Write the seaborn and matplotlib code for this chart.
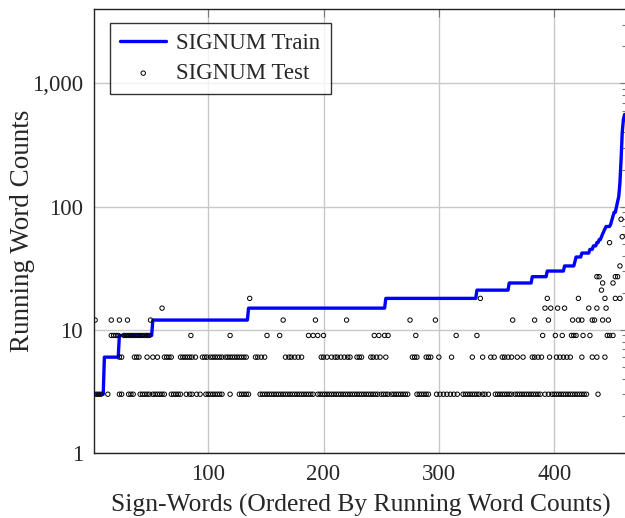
import numpy as np
import pandas as pd
import matplotlib
matplotlib.use("Agg")
import matplotlib.pyplot as plt
import seaborn as sns
from matplotlib.ticker import FixedLocator, LogLocator, NullFormatter

# Training counts per sign-word (sorted), as step levels and how many words sit on each
train_levels = [3, 6, 9, 12, 15, 18, 21, 24, 27, 30, 33, 36, 39, 42, 45, 48, 51, 54,
                57, 60, 63, 66, 69, 72, 78, 84, 90, 100, 110, 121, 156, 241, 400, 510, 560]
train_runs = [9, 13, 29, 83, 119, 79, 28, 20, 13, 15, 9, 1, 5, 7, 3, 3, 2, 2,
              1, 1, 1, 1, 4, 1, 1, 1, 2, 1, 1, 1, 1, 1, 1, 1, 1]

# Test counts: sign-word positions found at each count level
test_levels = [3, 6, 9, 12, 15, 18, 21, 24, 27, 33, 51, 57, 79]
test_x = [
    [3, 5, 7, 13, 23, 25, 31, 33, 35, 41, 43, 45, 47, 49, 52, 54, 56, 58, 60, 62, 68, 70,
     72, 74, 76, 81, 84, 86, 90, 93, 98, 100, 102, 104, 106, 108, 110, 112, 119, 127, 129,
     131, 133, 135, 145, 147, 149, 151, 153, 155, 157, 159, 161, 163, 165, 167, 169, 171,
     173, 175, 177, 179, 181, 183, 185, 187, 189, 191, 195, 197, 199, 201, 203, 205, 207,
     209, 211, 213, 215, 217, 219, 221, 223, 225, 227, 229, 231, 233, 235, 237, 239, 241,
     243, 245, 247, 250, 252, 254, 256, 259, 261, 263, 265, 267, 269, 271, 273, 281, 283,
     285, 287, 289, 291, 298, 301, 304, 307, 310, 313, 316, 321, 323, 325, 327, 329, 331,
     333, 335, 338, 340, 343, 349, 351, 353, 355, 357, 359, 361, 363, 366, 368, 370, 372,
     374, 376, 378, 380, 382, 384, 386, 388, 392, 395, 398, 400, 402, 404, 406, 408, 410,
     412, 414, 416, 418, 420, 422, 424, 426, 428, 438],
    [23, 25, 36, 38, 40, 47, 52, 56, 62, 64, 66, 68, 76, 78, 80, 82, 84, 86, 89, 95, 97,
     99, 102, 104, 106, 108, 110, 112, 115, 117, 119, 121, 123, 125, 127, 129, 131, 133,
     141, 143, 146, 149, 167, 170, 172, 175, 178, 181, 198, 200, 203, 207, 210, 212, 215,
     218, 221, 223, 229, 231, 233, 241, 243, 246, 249, 254, 277, 279, 281, 289, 291, 293,
     300, 311, 329, 338, 345, 348, 355, 357, 360, 363, 368, 373, 381, 383, 386, 389, 396,
     402, 405, 408, 411, 414, 424, 433, 437, 444],
    [16, 18, 20, 22, 27, 29, 31, 33, 35, 37, 39, 41, 43, 45, 47, 49, 85, 119, 151, 162,
     187, 191, 195, 200, 244, 248, 253, 256, 280, 315, 333, 390, 401, 407, 415, 417, 419,
     425, 431, 446, 448, 451],
    [2, 16, 23, 30, 50, 165, 193, 220, 275, 297, 364, 383, 395, 416, 421, 424, 433, 435,
     442, 447],
    [60, 392, 397, 403, 409, 430, 437, 445],
    [136, 336, 394, 421, 444, 453, 457],
    [441],
    [442, 451],
    [437, 439, 453, 455],
    [457],
    [448],
    [459],
    [458],
]

train_y = np.repeat(train_levels, train_runs)
train = pd.DataFrame({"word": np.arange(1, len(train_y) + 1), "count": train_y})
test = pd.DataFrame({
    "word": [x for xs in test_x for x in xs],
    "count": [lv for lv, xs in zip(test_levels, test_x) for _ in xs],
})

sns.set_theme(style="white")
plt.rcParams["font.family"] = ["Liberation Serif", "DejaVu Serif"]

fig = plt.figure(figsize=(6.25, 5.18), dpi=100)
ax = fig.add_axes([94 / 625, 65 / 518, 534 / 625, 443.7 / 518])

sns.lineplot(data=train, x="word", y="count", color="#0000ff", linewidth=2.4,
             estimator=None, label="SIGNUM Train", ax=ax, zorder=3)
sns.scatterplot(data=test, x="word", y="count", marker="o", s=10,
                facecolor="none", edgecolor="black", linewidth=0.7,
                label="SIGNUM Test", ax=ax, zorder=4)

ax.set_yscale("log")
ax.set_ylim(1, 4000)
ax.set_xlim(1, 464)
ax.yaxis.set_major_locator(FixedLocator([1, 10, 100, 1000]))
ax.set_yticklabels(["1", "10", "100", "1,000"])
ax.yaxis.set_minor_locator(LogLocator(base=10, subs=np.arange(2, 10)))
ax.yaxis.set_minor_formatter(NullFormatter())
ax.set_xticks([100, 200, 300, 400])

ax.grid(True, which="major", color="#c8c8c8", linewidth=1.0)
ax.set_axisbelow(True)
ax.tick_params(which="both", direction="in", top=True, right=True,
               color="#777777", width=0.8, labelsize=16.5, pad=8)
ax.tick_params(which="major", length=6)
ax.tick_params(which="minor", length=4)
for s in ax.spines.values():
    s.set_color("#222222")
    s.set_linewidth(1.0)

ax.set_xlabel("Sign-Words (Ordered By Running Word Counts)", fontsize=18.4, labelpad=6)
ax.set_ylabel("Running Word Counts", fontsize=19.5, labelpad=-2.5)

leg = ax.legend(loc="upper left", bbox_to_anchor=(0.030, 0.970), borderaxespad=0,
                fontsize=16.5, frameon=True, fancybox=False, edgecolor="black",
                handlelength=2.0, handletextpad=0.45, labelspacing=0.4,
                borderpad=0.45, markerscale=1.0)
leg.get_frame().set_linewidth(1.0)

fig.savefig("out.png", dpi=100)
